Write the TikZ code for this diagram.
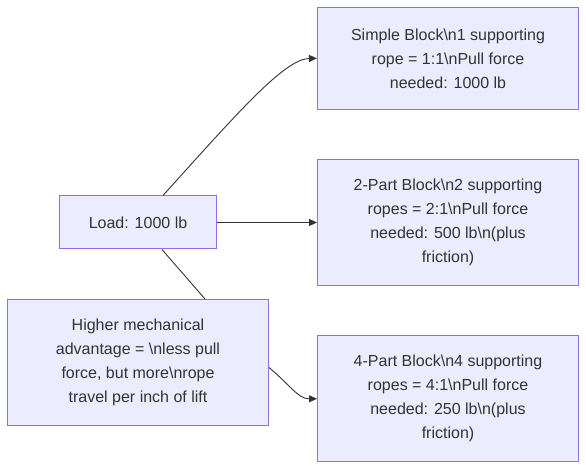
\documentclass[tikz,border=0pt]{standalone}
\usepackage{fontspec}
\setmainfont{Liberation Sans}
\usetikzlibrary{arrows.meta}
\definecolor{boxfill}{HTML}{ECECFF}
\definecolor{boxline}{HTML}{9370DB}
\definecolor{txt}{HTML}{333333}
\definecolor{edge}{HTML}{333333}
\newcommand{\bsl}{\textbackslash}
\tikzset{
  box/.style={draw=boxline, fill=boxfill, line width=1pt, rectangle, inner sep=0pt,
    align=center, text=txt, font=\fontsize{16}{24}\selectfont},
  link/.style={draw=edge, line width=0.9pt},
  arr/.style={link, -{Triangle[length=8pt,width=7pt]}}
}
\begin{document}
\begin{tikzpicture}[x=1pt,y=-1pt]
\useasboundingbox (0,0) rectangle (586,470);
\node[box, minimum width=157, minimum height=53] (load) at (138,222.5) {Load: 1000 lb};
\node[box, minimum width=261, minimum height=102] (simple) at (448,58.3) {Simple Block\bsl n1 supporting\\rope = 1:1\bsl nPull force\\needed: 1000 lb};
\node[box, minimum width=261, minimum height=126] (two) at (448,222.5) {2-Part Block\bsl n2 supporting\\ropes = 2:1\bsl nPull force\\needed: 500 lb\bsl n(plus\\friction)};
\node[box, minimum width=261, minimum height=126] (four) at (448,398.8) {4-Part Block\bsl n4 supporting\\ropes = 4:1\bsl nPull force\\needed: 250 lb\bsl n(plus\\friction)};
\node[box, minimum width=261, minimum height=126] (higher) at (138,362.5) {Higher mechanical\\advantage = \bsl nless pull\\force, but more\bsl nrope\\travel per inch of lift};
\draw[arr] ([xshift=25pt]load.north) .. controls (240,110) and (285,59) .. (simple.west);
\draw[arr] (load.east) -- (two.west);
\draw[link] ([xshift=24pt]load.south) -- ([xshift=67pt]higher.north);
\draw[arr] ([yshift=-5pt]higher.east) .. controls (290,385) and (298,398.8) .. (four.west);
\end{tikzpicture}
\end{document}
